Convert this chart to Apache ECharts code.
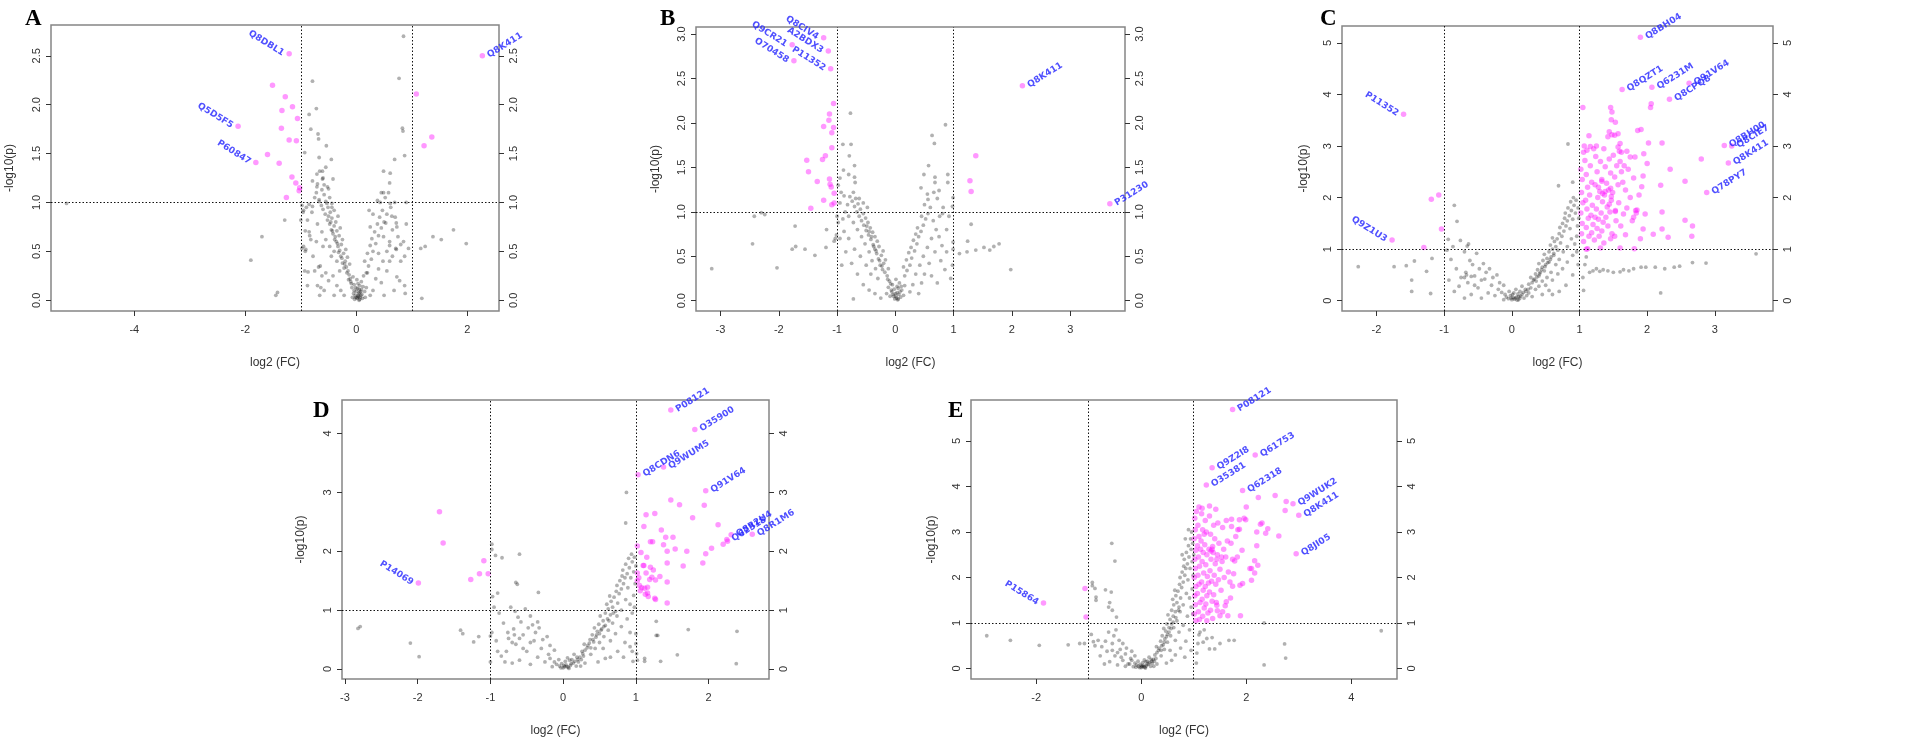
<!DOCTYPE html>
<html><head><meta charset="utf-8">
<script src="https://cdn.jsdelivr.net/npm/echarts@6/dist/echarts.min.js"></script>
<style>html,body{margin:0;padding:0;background:#fff}#c{width:1920px;height:738px}</style>
</head><body><div id="c"></div>
<script>
// ---------------- Panel A ----------------
const xTicksA = [-4, -2, 0, 2];
const yTicksA = [0, 0.5, 1, 1.5, 2, 2.5];
const labelsA = [[-1.21,2.52,'Q8DBL1','L'],[-2.13,1.78,'Q5D5F5','L'],[-1.81,1.41,'P60847','L'],[2.27,2.50,'Q8K411','R']];
const pinkA = [[-1.51,2.20],[-1.28,2.08],[-1.15,1.98],[-1.34,1.94],[-1.06,1.86],[-1.35,1.76],[-1.21,1.64],[-1.08,1.63],[-1.60,1.49],[-1.39,1.40],[-1.16,1.26],[-1.09,1.20],[-1.02,1.15],[-1.03,1.12],[-1.26,1.05],[1.08,2.11],[1.36,1.67],[1.22,1.58]];
const greyA = [[-5.22,0.99],[-1.90,0.41],[-1.70,0.65],[-1.45,0.05],[-1.42,0.08],[-1.29,0.82],[-1.00,0.82],[-0.98,0.53],[-0.93,0.30],
[0.85,2.70],[0.77,2.27],[0.83,1.76],[0.84,1.73],[0.87,1.48],[0.69,1.44],[0.61,1.30],[0.49,1.32],[0.43,1.00],
[1.75,0.72],[1.98,0.58],[1.53,0.62],[1.38,0.65],[1.24,0.55],[1.16,0.53],[1.18,0.02],[0.87,0.15],[0.88,0.07],[0.94,0.53],[0.90,1.00],[0.90,0.78],[0.72,0.79],[0.73,0.75],[0.64,0.86],
[-0.79,2.24],[-0.72,1.96],[-0.85,1.90],[-0.82,1.75],[-0.69,1.70],[-0.68,1.65],[-0.93,1.51],[-0.54,1.58],[-0.67,1.46],[-0.45,1.44],[-0.71,1.29],[-0.61,1.32],
[0.23,0.92],[0.49,1.10],[0.61,0.99],[0.69,1.00],[0.53,0.79],[0.49,0.65],[0.60,0.56],[0.71,0.53],[0.80,0.57],[0.87,0.45],[0.60,0.40],[0.40,0.48],[0.73,0.24],[0.20,0.28],
[-0.98,0.97],[-0.79,0.96],[-0.67,1.01],[-0.53,0.99],[-0.44,0.95],[-0.50,1.14],[-0.58,1.18],[-0.71,1.16],[-0.61,1.24],[-0.42,1.24],[-0.96,0.90],[-0.92,0.71],[-0.84,0.66],[-0.91,0.52],[-0.87,0.29],[-0.68,0.34],[-0.64,0.13],[-0.66,0.05],
[0.01,0.02],[0.04,0.04],[-0.02,0.05],[0.07,0.03],[0.00,0.09],[0.05,0.11],[-0.05,0.07],[0.10,0.06],[0.06,0.01],[-0.03,0.01],[0.12,0.14],[-0.08,0.13],[0.03,0.17],[0.15,0.09],[-0.10,0.19],[0.01,0.21],[0.09,0.19],[-0.06,0.24],[0.18,0.13],[-0.13,0.26],[0.13,0.25],[0.02,0.03],[0.08,0.09],[-0.01,0.13],[0.04,0.07],[0.11,0.02],[-0.04,0.16],[0.06,0.15],[0.16,0.03],[-0.07,0.03],
[0.03,0.05],[0.06,0.08],[-0.01,0.03],[0.09,0.11],[0.02,0.12],[-0.04,0.10],[0.05,0.00],[0.08,0.05],[-0.09,0.17],[-0.11,0.22],[-0.14,0.21],[-0.17,0.28],
[-0.15,0.30],[-0.18,0.34],[-0.12,0.37],[-0.22,0.33],[-0.20,0.40],[-0.25,0.38],[-0.16,0.44],[-0.28,0.45],[-0.23,0.48],[-0.30,0.51],[-0.19,0.52],[-0.33,0.55],[-0.27,0.57],[-0.36,0.60],[-0.25,0.62],[-0.38,0.65],[-0.31,0.66],[-0.42,0.68],[-0.35,0.71],[-0.45,0.72],[-0.29,0.74],[-0.40,0.76],[-0.48,0.78],[-0.37,0.80],[-0.52,0.82],[-0.44,0.84],[-0.33,0.86],[-0.56,0.88],[-0.47,0.90],[-0.40,0.92],[-0.60,0.93],[-0.51,0.95],[-0.63,0.97],[-0.44,0.99],[-0.55,1.01],[-0.67,1.03],[-0.48,1.05],[-0.58,1.08],[-0.72,1.10],[-0.62,1.13],[-0.52,1.16],[-0.70,1.19],[-0.79,1.22],[-0.60,1.25],[-0.66,1.32],[-0.55,1.36],[-0.75,1.05],[-0.85,0.98],[-0.90,0.95],[-0.80,0.90],[-0.95,0.92],[-0.88,0.82],[-0.70,0.78],[-0.62,0.70],[-0.55,0.62],[-0.48,0.55],[-0.40,0.50],[-0.35,0.40],[-0.30,0.30],[-0.45,0.45],[-0.60,0.55],[-0.72,0.60],[-0.85,0.70],[-0.92,0.50],[-0.78,0.45],[-0.65,0.35],[-0.55,0.28],[-0.42,0.25],[-0.50,0.20],[-0.62,0.25],[-0.75,0.30],[-0.88,0.15],[-0.95,0.55],[-0.82,0.62],[-0.70,0.15],[-0.58,0.10],[-0.35,0.15],[-0.28,0.10],[-0.22,0.05],[-0.40,0.05],
[-0.21,0.37],[-0.26,0.43],[-0.32,0.49],[-0.34,0.58],[-0.39,0.62],[-0.43,0.71],[-0.46,0.80],[-0.50,0.86],
[0.18,0.28],[0.22,0.35],[0.15,0.40],[0.27,0.42],[0.20,0.48],[0.30,0.50],[0.25,0.56],[0.35,0.58],[0.28,0.63],[0.40,0.66],[0.33,0.70],[0.45,0.74],[0.38,0.78],[0.50,0.80],[0.42,0.85],[0.55,0.88],[0.47,0.92],[0.52,1.05],[0.58,1.10],[0.62,0.95],[0.70,0.85],[0.65,0.72],[0.75,0.65],[0.60,0.60],[0.55,0.50],[0.48,0.40],[0.40,0.32],[0.35,0.22],[0.45,0.18],[0.55,0.30],[0.65,0.45],[0.72,0.52],[0.80,0.40],[0.85,0.60],[0.78,0.20],[0.68,0.10],[0.30,0.10],[0.25,0.05],[0.50,0.05],[0.38,1.02],[0.45,1.10],[0.30,0.88],[0.25,0.75],[0.60,1.20]];

// ---------------- Panel B ----------------
const xTicksB = [-3, -2, -1, 0, 1, 2, 3];
const yTicksB = [0, 0.5, 1, 1.5, 2, 2.5, 3];
const labelsB = [[-1.23,2.96,'Q8CIV4','L'],[-1.77,2.88,'Q9CR21','L'],[-1.15,2.81,'A2BDX3','L'],[-1.74,2.70,'O70458','L'],[-1.11,2.61,'P11352','L'],[2.18,2.42,'Q8K411','R'],[3.68,1.09,'P31230','R']];
const pinkB = [[-1.06,2.22],[-1.13,2.10],[-1.14,2.03],[-1.23,1.96],[-1.06,1.95],[-1.09,1.89],[-1.09,1.72],[-1.20,1.63],[-1.25,1.59],[-1.52,1.58],[-1.49,1.45],[-1.34,1.34],[-1.13,1.37],[-1.12,1.31],[-1.10,1.28],[-1.05,1.21],[-1.23,1.13],[-1.09,1.08],[-1.05,1.10],[-1.45,1.04],[1.38,1.63],[1.28,1.35],[1.30,1.23]];
const greyB = [[-0.77,2.11],[-0.90,1.76],[-0.76,1.76],[-0.79,1.63],[-0.70,1.52],[-0.89,1.47],[-0.80,1.42],[-0.70,1.39],[-0.69,1.33],[-0.95,1.38],[-0.98,1.30],[-0.93,1.22],
[0.86,1.98],[0.63,1.86],[0.67,1.77],[0.57,1.52],[0.49,1.42],[0.68,1.39],[0.68,1.33],[0.90,1.42],[0.90,1.33],[0.99,1.16],[0.98,1.06],[0.56,1.14],[0.75,1.24],[0.44,1.27],
[0.99,0.66],[0.99,0.58],[0.98,0.40],[1.10,0.53],[1.23,0.55],[1.24,0.67],[1.30,0.86],[1.38,0.57],[1.52,0.60],[1.62,0.57],[1.69,0.61],[1.78,0.64],[1.98,0.35],[0.81,0.98],
[-3.15,0.36],[-2.45,0.64],[-2.42,0.95],[-2.30,0.99],[-2.24,0.97],[-2.03,0.37],[-1.77,0.58],[-1.72,0.84],[-1.71,0.61],[-1.55,0.58],[-1.38,0.51],[-1.19,0.60],[-1.18,0.80],[-1.03,0.70],[-1.01,0.74],[-1.05,0.67],[-0.72,0.02],[-1.00,0.95],[-0.98,0.88],
[0.02,0.03],[-0.03,0.05],[0.05,0.02],[0.00,0.08],[-0.06,0.10],[0.06,0.07],[-0.02,0.13],[0.09,0.04],[-0.09,0.05],[0.03,0.16],[-0.05,0.18],[0.11,0.12],[-0.12,0.15],[0.07,0.20],[0.14,0.06],[-0.10,0.22],[0.01,0.24],[0.16,0.17],[-0.15,0.08],[0.04,0.01],
[0.01,0.05],[-0.01,0.02],[0.03,0.09],[-0.04,0.07],[0.08,0.10],[-0.07,0.12],[0.05,0.14],[-0.08,0.19],[-0.13,0.24],[0.10,0.16],
[-0.14,0.28],[-0.18,0.32],[-0.12,0.36],[-0.22,0.35],[-0.20,0.42],[-0.26,0.40],[-0.17,0.46],[-0.29,0.47],[-0.24,0.51],[-0.32,0.53],[-0.21,0.56],[-0.35,0.58],[-0.28,0.61],[-0.38,0.63],[-0.31,0.67],[-0.42,0.69],[-0.35,0.72],[-0.46,0.74],[-0.39,0.77],[-0.50,0.79],[-0.43,0.82],[-0.54,0.85],[-0.47,0.88],[-0.58,0.90],[-0.51,0.93],[-0.62,0.95],[-0.55,0.98],[-0.66,1.00],[-0.60,1.03],[-0.70,1.06],[-0.64,1.09],[-0.74,1.12],[-0.68,1.15],[-0.78,1.17],[-0.82,1.08],[-0.86,1.00],[-0.90,0.92],[-0.80,0.95],[-0.72,0.88],[-0.65,0.80],[-0.58,0.72],[-0.52,0.64],[-0.45,0.55],[-0.40,0.45],[-0.34,0.36],[-0.30,0.25],[-0.42,0.30],[-0.50,0.40],[-0.60,0.50],[-0.70,0.58],[-0.80,0.70],[-0.88,0.78],[-0.95,0.70],[-0.85,0.55],[-0.75,0.42],[-0.65,0.30],[-0.55,0.18],[-0.45,0.12],[-0.35,0.08],[-0.25,0.03],[-0.92,0.40],[-0.62,1.15],[-0.55,1.10],[-0.48,1.05],[-0.72,1.22],[-0.88,1.18],[-0.95,1.10],
[-0.23,0.39],[-0.27,0.45],[-0.33,0.56],[-0.37,0.61],[-0.41,0.72],[-0.45,0.78],[-0.49,0.84],
[0.16,0.28],[0.20,0.34],[0.14,0.38],[0.25,0.40],[0.19,0.46],[0.28,0.48],[0.23,0.54],[0.33,0.56],[0.27,0.60],[0.37,0.64],[0.31,0.68],[0.40,0.72],[0.35,0.75],[0.44,0.78],[0.38,0.82],[0.48,0.85],[0.52,0.92],[0.45,0.95],[0.56,0.98],[0.60,1.05],[0.50,1.08],[0.65,0.90],[0.70,0.80],[0.62,0.70],[0.75,0.72],[0.55,0.60],[0.68,0.55],[0.48,0.50],[0.80,0.62],[0.42,0.40],[0.58,0.42],[0.35,0.30],[0.50,0.30],[0.30,0.18],[0.45,0.20],[0.62,0.28],[0.78,0.45],[0.85,0.35],[0.72,0.20],[0.25,0.10],[0.40,0.08],[0.88,0.80],[0.92,0.95],[0.82,1.05],[0.72,1.15],[0.66,1.22],[0.55,1.20],[0.76,0.95],[0.88,0.55],[0.95,0.25]];

// ---------------- Panel C ----------------
const xTicksC = [-2, -1, 0, 1, 2, 3];
const yTicksC = [0, 1, 2, 3, 4, 5];
const labelsC = [[1.90,5.11,'Q8BH04','R'],[1.63,4.10,'Q8QZT1','R'],[2.07,4.14,'Q6231M','R'],[2.33,3.91,'Q8CPQ8','R'],[2.62,4.22,'Q91V64','R'],[-1.60,3.62,'P11352','L'],[-1.77,1.18,'Q9Z1U3','L'],[3.14,3.01,'Q8BH00','R'],[3.25,3.00,'Q8CIE7','R'],[3.20,2.67,'Q8K411','R'],[2.88,2.10,'Q78PY7','R']];
const pinkC = [[-1.19,1.97],[-1.08,2.05],[-1.04,1.39],[-1.30,1.03],
[1.05,3.75],[1.46,3.75],[1.48,3.66],[1.47,3.51],[1.53,3.46],[2.06,3.82],[2.05,3.75],[1.86,3.30],[1.91,3.32],[1.42,3.18],[1.44,3.28],[1.48,3.22],[1.57,3.24],[1.52,3.21],[1.14,3.20],[1.25,3.00],[1.16,2.99],[1.06,2.88],[2.02,3.06],[2.22,3.06],[2.80,2.75],[2.34,2.55],[2.56,2.32],[2.20,2.24],[1.92,2.21],[1.94,2.42],[2.00,2.66],[1.95,2.85],[1.82,2.79],[1.75,2.79],[1.62,2.88],[1.59,2.90],[2.22,1.72],[2.56,1.56],[2.67,1.45],[2.66,1.25],[2.22,1.39],[2.09,1.29],[2.31,1.23],[1.97,1.68],[1.94,1.39],[1.80,1.62],[1.85,1.76],[1.83,1.75],[1.81,1.01],[1.60,1.02],[1.46,1.20],[1.31,1.02],[1.10,1.00],[1.12,1.01],
[1.02,2.55],[1.04,2.35],[1.03,2.10],[1.05,1.90],[1.02,1.70],[1.04,1.50],[1.03,1.30],[1.06,1.15],[1.08,2.72],[1.10,2.45],[1.12,2.20],[1.09,1.95],[1.11,1.78],[1.13,1.60],[1.10,1.42],[1.14,1.25],[1.16,2.62],[1.18,2.30],[1.15,2.05],[1.19,1.85],[1.17,1.66],[1.20,1.48],[1.18,1.32],[1.22,1.18],[1.24,2.80],[1.26,2.50],[1.23,2.25],[1.27,2.00],[1.25,1.78],[1.28,1.58],[1.26,1.40],[1.29,1.25],[1.31,2.70],[1.33,2.35],[1.30,2.12],[1.34,1.92],[1.32,1.70],[1.35,1.52],[1.33,1.35],[1.36,2.95],[1.38,2.60],[1.40,2.28],[1.37,2.05],[1.41,1.82],[1.39,1.62],[1.42,1.45],[1.44,2.75],[1.46,2.48],[1.43,2.15],[1.47,1.95],[1.45,1.72],[1.48,1.30],[1.50,2.82],[1.52,2.40],[1.49,2.10],[1.53,1.75],[1.55,2.62],[1.57,2.25],[1.54,1.55],[1.58,1.90],[1.60,2.70],[1.62,2.50],[1.64,2.30],[1.61,1.45],[1.66,2.62],[1.68,2.15],[1.70,1.80],[1.72,2.55],[1.65,1.68],[1.75,2.00],[1.78,1.55],[1.80,2.38],[1.84,1.70],[1.88,2.05],[1.90,1.20],[1.36,1.12],[1.52,1.25],[1.68,1.28],[1.23,1.62],[1.28,2.20],[1.21,2.95],[1.11,2.92],[1.07,3.00],[1.60,3.05],[1.70,2.90],[1.57,2.98],[1.34,2.08],[1.38,2.12],[1.33,2.32],[1.47,2.02],[1.44,1.87],[1.53,1.73],[1.46,2.18]];
const greyC = [[-2.27,0.66],[-1.74,0.66],[-1.56,0.68],[-1.44,0.77],[-1.48,0.40],[-1.48,0.18],[-1.20,0.14],[-1.26,0.57],[-1.18,0.82],[-0.85,1.85],[-0.81,1.54],[-0.94,1.19],[-0.87,1.05],[-0.76,1.17],[-0.64,1.10],
[0.83,3.04],[0.69,2.23],[0.90,2.30],[2.20,0.15],[3.61,0.91],[2.87,0.73],[2.67,0.74],
[1.20,0.58],[1.42,0.58],[1.60,0.56],[1.73,0.58],[1.80,0.62],[1.91,0.65],[1.98,0.65],[2.12,0.65],[2.26,0.62],[2.40,0.65],[2.48,0.67],[1.30,0.57],[1.35,0.60],[1.08,0.70],[1.05,0.45],[1.06,0.20],[1.10,0.85],[1.15,0.55],[1.25,0.62],[1.50,0.55],[1.65,0.60],
[0.00,0.02],[0.05,0.05],[-0.05,0.04],[0.10,0.08],[-0.02,0.10],[0.08,0.01],[0.15,0.12],[-0.08,0.07],[0.03,0.15],[0.18,0.05],[0.12,0.18],[-0.10,0.12],[0.22,0.10],[0.06,0.22],[0.20,0.22],[-0.04,0.18],[0.25,0.15],[0.15,0.28],[0.28,0.25],[0.02,0.06],[0.10,0.02],[-0.12,0.02],[0.30,0.08],[-0.15,0.16],
[0.04,0.03],[0.07,0.07],[-0.01,0.05],[0.12,0.05],[0.09,0.13],[0.17,0.16],[0.21,0.18],[0.24,0.22],[0.13,0.09],[0.01,0.12],
[0.30,0.35],[0.25,0.32],[0.33,0.42],[0.28,0.45],[0.36,0.38],[0.35,0.52],[0.40,0.48],[0.38,0.60],[0.42,0.55],[0.45,0.65],[0.40,0.72],[0.48,0.58],[0.46,0.78],[0.50,0.70],[0.52,0.82],[0.48,0.90],[0.55,0.75],[0.55,0.95],[0.58,0.85],[0.60,1.00],[0.57,1.08],[0.62,0.92],[0.63,1.15],[0.65,1.05],[0.60,1.22],[0.67,1.20],[0.68,0.98],[0.70,1.30],[0.72,1.12],[0.71,1.42],[0.74,1.25],[0.75,1.50],[0.77,1.35],[0.78,1.60],[0.80,1.45],[0.79,1.70],[0.82,1.55],[0.83,1.80],[0.85,1.65],[0.86,1.40],[0.88,1.75],[0.87,1.92],[0.90,1.58],[0.92,1.85],[0.91,2.00],[0.94,1.70],[0.95,1.95],[0.97,1.45],[0.98,1.80],[0.96,1.25],[0.99,1.60],[0.93,1.10],[0.88,1.20],[0.82,1.05],[0.76,0.95],[0.70,0.80],[0.65,0.70],[0.58,0.55],[0.52,0.45],[0.45,0.38],[0.40,0.28],[0.35,0.22],[0.50,0.30],[0.60,0.40],[0.68,0.52],[0.75,0.62],[0.82,0.75],[0.90,0.88],[0.96,0.95],[0.80,0.30],[0.70,0.18],[0.60,0.12],[0.90,0.50],[0.98,0.70],[0.55,0.20],[0.45,0.12],
[0.32,0.40],[0.37,0.46],[0.41,0.52],[0.44,0.60],[0.49,0.66],[0.53,0.74],[0.57,0.80],[0.62,0.88],
[-0.20,0.22],[-0.25,0.10],[-0.30,0.30],[-0.35,0.15],[-0.40,0.42],[-0.45,0.05],[-0.50,0.25],[-0.55,0.48],[-0.60,0.12],[-0.65,0.35],[-0.68,0.55],[-0.70,0.05],[-0.75,0.45],[-0.78,0.28],[-0.82,0.62],[-0.85,0.18],[-0.90,0.80],[-0.93,0.40],[-0.96,0.98],[-0.62,0.78],[-0.58,0.70],[-0.48,0.62],[-0.38,0.55],[-0.28,0.45],[-0.18,0.35],[-0.52,0.92],[-0.70,0.95],[-0.66,1.06],[-0.42,0.72],[-0.33,0.62],[-0.22,0.50],[-0.12,0.30],[-0.70,0.45],[-0.67,0.50],[-0.60,0.47],[-0.55,0.30],[-0.45,0.40]];

// ---------------- Panel D ----------------
const xTicksD = [-3, -2, -1, 0, 1, 2];
const yTicksD = [0, 1, 2, 3, 4];
const labelsD = [[1.48,4.40,'P08121','R'],[1.81,4.07,'O35900','R'],[1.03,3.30,'Q8CDN6','R'],[1.38,3.43,'Q9WUM5','R'],[1.96,3.03,'Q91V64','R'],[2.31,2.28,'Q8R2U4','R'],[2.25,2.20,'Q62318','R'],[2.60,2.29,'Q8R1M6','R'],[-1.99,1.46,'P14069','L']];
const pinkD = [[-1.70,2.67],[-1.65,2.14],[-1.09,1.84],[-1.15,1.62],[-1.03,1.62],[-1.27,1.52],
[1.48,2.87],[1.60,2.79],[1.94,2.78],[1.78,2.57],[2.13,2.45],[1.14,2.62],[1.26,2.64],[1.11,2.42],[1.35,2.36],[1.41,2.24],[1.51,2.24],[1.20,2.16],[1.23,2.16],[1.38,2.11],[1.54,2.04],[1.43,2.00],[1.70,2.00],[2.04,2.05],[1.96,1.96],[1.92,1.80],[1.65,1.75],[1.43,1.80],[1.02,2.09],[1.07,1.98],[1.15,1.90],[1.10,1.76],[1.11,1.76],[1.20,1.73],[1.14,1.63],[1.24,1.68],[1.22,1.56],[1.19,1.52],[1.27,1.51],[1.33,1.57],[1.02,1.63],[1.04,1.55],[1.02,1.50],[1.43,1.48],[1.08,1.38],[1.12,1.37],[1.16,1.39],[1.13,1.27],[1.17,1.23],[1.16,1.29],[1.26,1.20],[1.27,1.18],[1.43,1.12],[1.05,1.42],[1.06,1.33],[2.20,2.12],[2.26,2.17]];
const greyD = [[0.87,3.00],[0.86,2.48],[-0.98,2.12],[-0.98,2.03],[-0.93,1.93],[-0.84,1.89],[-0.60,1.95],[-0.63,1.44],[-0.65,1.47],[-0.34,1.30],[-0.90,1.29],[-0.97,1.23],[-2.82,0.69],[-2.79,0.72],[-2.10,0.44],[-1.98,0.21],[-1.41,0.66],[-1.38,0.60],[-1.23,0.46],[-1.16,0.55],[-1.00,0.56],[-1.00,0.12],[1.72,0.67],[2.39,0.64],[2.38,0.09],[1.57,0.24],[1.34,0.13],[1.12,0.18],[1.12,0.13],[1.28,0.81],[1.28,0.57],[1.30,0.57],[1.00,0.60],[1.00,0.43],[1.01,0.26],[1.02,0.15],[0.92,0.38],[0.96,0.13],
[0.00,0.02],[0.05,0.04],[-0.05,0.05],[0.10,0.06],[-0.02,0.09],[0.08,0.01],[0.14,0.10],[-0.09,0.08],[0.03,0.13],[0.18,0.05],[0.12,0.16],[-0.12,0.12],[0.21,0.12],[0.06,0.19],[0.19,0.20],[-0.06,0.16],[0.25,0.16],[0.15,0.25],[0.28,0.22],[0.02,0.04],[-0.15,0.04],[-0.18,0.18],[0.30,0.10],[0.24,0.05],
[0.04,0.07],[0.07,0.03],[0.11,0.09],[0.16,0.13],[0.20,0.16],[0.23,0.20],[0.01,0.06],[-0.03,0.02],[0.09,0.15],[0.27,0.26],
[0.30,0.32],[0.26,0.30],[0.34,0.40],[0.29,0.42],[0.38,0.36],[0.37,0.50],[0.42,0.46],[0.40,0.58],[0.45,0.54],[0.47,0.64],[0.43,0.70],[0.50,0.60],[0.49,0.76],[0.53,0.68],[0.55,0.82],[0.51,0.90],[0.58,0.74],[0.58,0.95],[0.61,0.85],[0.62,1.02],[0.60,1.10],[0.65,0.92],[0.66,1.15],[0.68,1.05],[0.64,1.24],[0.70,1.22],[0.72,0.98],[0.73,1.32],[0.75,1.12],[0.74,1.42],[0.77,1.28],[0.78,1.50],[0.80,1.36],[0.81,1.58],[0.83,1.45],[0.82,1.68],[0.85,1.55],[0.86,1.78],[0.88,1.62],[0.89,1.38],[0.91,1.72],[0.90,1.88],[0.93,1.55],[0.95,1.82],[0.94,1.95],[0.97,1.65],[0.98,1.90],[0.99,1.45],[1.00,1.75],[0.97,1.25],[0.92,1.10],[0.86,1.18],[0.80,1.00],[0.74,0.90],[0.68,0.78],[0.62,0.66],[0.56,0.55],[0.50,0.45],[0.44,0.35],[0.38,0.25],[0.55,0.35],[0.65,0.48],[0.72,0.60],[0.80,0.72],[0.88,0.85],[0.95,0.95],[0.85,0.45],[0.75,0.30],[0.65,0.20],[0.92,0.62],[0.98,1.05],[0.58,0.18],[0.48,0.12],[0.83,0.20],[0.95,0.30],
[0.33,0.36],[0.36,0.44],[0.41,0.50],[0.46,0.58],[0.52,0.66],[0.56,0.72],[0.63,0.82],[0.69,0.95],
[-0.20,0.25],[-0.25,0.12],[-0.30,0.35],[-0.35,0.20],[-0.40,0.48],[-0.45,0.08],[-0.50,0.30],[-0.55,0.58],[-0.60,0.15],[-0.65,0.42],[-0.68,0.68],[-0.70,0.10],[-0.75,0.52],[-0.78,0.30],[-0.82,0.78],[-0.85,0.22],[-0.88,0.95],[-0.92,0.48],[-0.95,1.05],[-0.62,0.88],[-0.58,0.80],[-0.48,0.70],[-0.38,0.62],[-0.28,0.50],[-0.18,0.40],[-0.52,1.02],[-0.72,1.05],[-0.66,0.98],[-0.45,0.90],[-0.35,0.80],[-0.42,0.75],[-0.33,0.70],[-0.22,0.55],[-0.12,0.32],[-0.70,0.45],[-0.67,0.58],[-0.60,0.52],[-0.55,0.35],[-0.45,0.45],[-0.80,0.12],[-0.90,0.30],[-0.98,0.62],[-0.76,0.62]];

// ---------------- Panel E ----------------
const xTicksE = [-2, 0, 2, 4];
const yTicksE = [0, 1, 2, 3, 4, 5];
const labelsE = [[1.74,5.69,'P08121','R'],[2.17,4.69,'Q61753','R'],[1.35,4.41,'Q9Z2I8','R'],[1.24,4.03,'O35381','R'],[1.93,3.91,'Q62318','R'],[2.89,3.62,'Q9WUK2','R'],[3.00,3.37,'Q8K411','R'],[2.95,2.52,'Q8JI05','R'],[-1.86,1.44,'P15864','L']];
const pinkE = [[-1.07,1.76],[-1.05,1.13],
[2.23,3.76],[2.55,3.80],[2.76,3.67],[2.74,3.47],[2.62,2.91],[2.41,3.07],[2.37,2.97],[2.30,3.20],[2.27,3.17],[2.20,3.00],[2.20,2.70],[2.16,2.37],[2.22,2.27],[2.10,2.20],[2.07,2.20],[2.16,2.10],[2.10,1.94],[1.93,1.87],[2.00,3.55],[1.99,3.27],[1.87,3.27],[1.87,3.06],[1.72,3.28],[1.72,3.12],[1.78,2.36],[1.88,1.83],[1.74,1.81],[1.62,1.47],[1.89,1.16],[1.65,1.16],[1.50,1.16],[1.44,1.39],[1.45,1.27],[1.10,3.55],[1.16,3.52],[1.30,3.57],[1.42,3.50],
[1.02,3.30],[1.03,3.05],[1.01,2.85],[1.04,2.60],[1.02,2.40],[1.03,2.20],[1.01,2.00],[1.04,1.80],[1.02,1.60],[1.03,1.40],[1.01,1.20],[1.04,1.05],[1.08,3.15],[1.10,2.90],[1.07,2.70],[1.09,2.45],[1.11,2.25],[1.08,2.05],[1.10,1.85],[1.07,1.65],[1.12,1.45],[1.09,1.25],[1.11,1.08],[1.15,3.40],[1.17,3.05],[1.14,2.80],[1.18,2.55],[1.16,2.35],[1.19,2.10],[1.15,1.90],[1.18,1.72],[1.16,1.52],[1.20,1.33],[1.17,1.15],[1.22,3.25],[1.24,3.00],[1.21,2.72],[1.25,2.50],[1.23,2.28],[1.26,2.02],[1.22,1.80],[1.25,1.60],[1.23,1.42],[1.27,1.22],[1.30,3.35],[1.32,2.95],[1.29,2.62],[1.33,2.40],[1.31,2.15],[1.34,1.92],[1.30,1.68],[1.35,1.48],[1.32,1.28],[1.38,3.15],[1.40,2.85],[1.37,2.55],[1.41,2.30],[1.39,2.05],[1.42,1.85],[1.38,1.62],[1.43,1.45],[1.46,3.20],[1.48,2.75],[1.45,2.50],[1.50,2.18],[1.47,1.95],[1.52,1.72],[1.55,3.10],[1.57,2.62],[1.54,2.35],[1.58,2.00],[1.62,3.25],[1.64,2.80],[1.61,2.45],[1.66,2.12],[1.69,1.90],[1.71,2.75],[1.74,2.40],[1.76,2.08],[1.80,2.90],[1.83,2.45],[1.84,3.05],[1.92,2.60],[1.96,3.30],[1.60,1.38],[1.70,1.55],[1.55,1.25],[1.36,1.10],[1.25,1.05],[1.05,3.45],[1.13,2.62],[1.20,2.95],[1.28,1.88],[1.36,2.68],[1.44,2.40],[1.33,2.58],[1.35,2.62],[1.53,2.45]];
const greyE = [[-0.56,2.75],[-0.50,2.36],[-0.93,1.89],[-0.93,1.82],[-0.88,1.76],[-0.68,1.73],[-0.57,1.68],[-0.86,1.57],[-0.86,1.50],[-0.60,1.45],[-0.62,1.35],[-0.55,1.28],[-0.47,1.13],[-2.94,0.72],[-2.49,0.62],[-1.94,0.51],[-1.39,0.52],[-1.17,0.55],[-1.08,0.55],[-0.91,0.59],[4.57,0.83],[2.73,0.54],[2.75,0.23],[2.34,0.08],[2.34,1.00],[1.67,0.62],[1.77,0.62],[1.50,0.55],[1.40,0.43],[1.30,0.43],[1.35,0.68],[1.25,0.66],[1.18,0.58],[1.10,0.74],[1.08,0.55],[1.06,0.34],[1.05,0.12],[1.12,0.80],[1.20,0.85],
[0.00,0.02],[0.05,0.04],[-0.05,0.05],[0.10,0.06],[-0.02,0.09],[0.08,0.01],[0.14,0.10],[-0.09,0.08],[0.03,0.13],[0.18,0.05],[0.12,0.16],[-0.12,0.12],[0.21,0.12],[0.06,0.19],[0.19,0.20],[-0.06,0.16],[0.25,0.16],[0.15,0.25],[0.28,0.22],[0.02,0.04],[-0.15,0.04],[-0.18,0.18],[0.30,0.10],[0.24,0.05],
[0.04,0.07],[0.07,0.03],[0.11,0.09],[0.16,0.13],[0.20,0.16],[0.23,0.20],[0.01,0.06],[-0.03,0.02],[0.09,0.15],[-0.10,0.03],
[0.30,0.35],[0.26,0.30],[0.34,0.45],[0.29,0.48],[0.38,0.40],[0.37,0.60],[0.42,0.52],[0.40,0.72],[0.45,0.65],[0.47,0.82],[0.43,0.88],[0.50,0.75],[0.49,0.98],[0.53,0.90],[0.55,1.08],[0.51,1.18],[0.58,0.98],[0.58,1.28],[0.61,1.15],[0.62,1.40],[0.60,1.52],[0.65,1.25],[0.66,1.60],[0.68,1.45],[0.64,1.72],[0.70,1.70],[0.72,1.35],[0.73,1.85],[0.75,1.55],[0.74,2.00],[0.77,1.78],[0.78,2.12],[0.80,1.90],[0.81,2.25],[0.83,2.05],[0.82,2.40],[0.85,2.20],[0.86,2.55],[0.88,2.30],[0.89,1.95],[0.91,2.45],[0.90,2.70],[0.93,2.20],[0.95,2.62],[0.94,2.85],[0.97,2.35],[0.98,2.75],[0.99,2.05],[1.00,2.50],[0.97,1.75],[0.92,1.55],[0.86,1.65],[0.80,1.40],[0.74,1.25],[0.68,1.05],[0.62,0.90],[0.56,0.72],[0.50,0.58],[0.44,0.42],[0.38,0.28],[0.55,0.40],[0.65,0.62],[0.72,0.80],[0.80,0.95],[0.88,1.15],[0.95,1.35],[0.85,0.60],[0.75,0.45],[0.65,0.30],[0.92,0.85],[0.98,1.20],[0.58,0.18],[0.48,0.12],[0.83,0.25],[0.95,0.40],[0.84,2.85],[0.90,3.05],[0.96,3.00],[0.78,2.50],
[0.33,0.40],[0.39,0.50],[0.44,0.58],[0.48,0.70],[0.53,0.80],[0.57,0.88],[0.61,1.02],[0.66,1.12],[0.71,1.28],
[-0.20,0.22],[-0.25,0.10],[-0.30,0.32],[-0.35,0.18],[-0.40,0.42],[-0.45,0.08],[-0.50,0.28],[-0.55,0.55],[-0.60,0.15],[-0.65,0.38],[-0.68,0.60],[-0.70,0.10],[-0.75,0.48],[-0.78,0.28],[-0.82,0.62],[-0.88,0.50],[-0.95,0.75],[-0.42,0.62],[-0.35,0.55],[-0.28,0.45],[-0.18,0.38],[-0.12,0.28],[-0.52,0.72],[-0.62,0.80],[-0.48,0.85],[-0.38,0.25],[-0.30,0.05],[-0.55,0.40],[-0.45,0.35],[-0.22,0.10]];

// ---------------- layout ----------------
const panels = [
  {letter:'A', grey:greyA, pink:pinkA, lab:labelsA, xt:xTicksA, yt:yTicksA, dec:1, box:{left:51,top:25,width:448,height:286}, xr:[-5.5,2.57], yr:[-0.11,2.815], lp:[20,3], yng:35},
  {letter:'B', grey:greyB, pink:pinkB, lab:labelsB, xt:xTicksB, yt:yTicksB, dec:1, box:{left:696,top:27,width:429,height:284}, xr:[-3.42,3.94], yr:[-0.116,3.08], lp:[655,3], yng:34},
  {letter:'C', grey:greyC, pink:pinkC, lab:labelsC, xt:xTicksC, yt:yTicksC, dec:0, box:{left:1342,top:26,width:431,height:285}, xr:[-2.51,3.86], yr:[-0.2,5.33], lp:[1315,3], yng:32},
  {letter:'D', grey:greyD, pink:pinkD, lab:labelsD, xt:xTicksD, yt:yTicksD, dec:0, box:{left:342,top:400,width:427,height:280}, xr:[-3.04,2.83], yr:[-0.17,4.57], lp:[308,395], yng:35},
  {letter:'E', grey:greyE, pink:pinkE, lab:labelsE, xt:xTicksE, yt:yTicksE, dec:0, box:{left:971,top:400,width:426,height:280}, xr:[-3.24,4.87], yr:[-0.23,5.9], lp:[943,395], yng:33}
];

const grid = [], xAxis = [], yAxis = [], series = [], title = [];
const tickFont = {fontSize:11, color:'#333', fontFamily:'Liberation Sans'};
const labFont = {fontSize:9, color:'#2323ff', fontFamily:'DejaVu Sans', fontWeight:'bold'};
panels.forEach((p, i) => {
  grid.push(Object.assign({show:true, borderColor:'#858585', borderWidth:1.5, backgroundColor:'transparent'}, p.box));
  const fmtY = v => Number(v).toFixed(p.dec);
  xAxis.push({type:'value', gridIndex:i, min:p.xr[0], max:p.xr[1], position:'bottom',
    axisLine:{show:false, onZero:false}, splitLine:{show:false},
    axisTick:{show:true, customValues:p.xt, length:5, lineStyle:{color:'#333'}},
    axisLabel:Object.assign({customValues:p.xt, margin:13, formatter:v=>String(v)}, tickFont),
    name:'log2 (FC)', nameLocation:'middle', nameGap:46, nameTextStyle:{fontSize:12, color:'#333', fontFamily:'Liberation Sans'}});
  yAxis.push({type:'value', gridIndex:i, position:'left', min:p.yr[0], max:p.yr[1],
    axisLine:{show:false, onZero:false}, splitLine:{show:false},
    axisTick:{show:true, customValues:p.yt, length:5, lineStyle:{color:'#333'}},
    axisLabel:Object.assign({customValues:p.yt, rotate:90, margin:9, formatter:fmtY}, tickFont),
    name:'-log10(p)', nameLocation:'middle', nameGap:p.yng, nameRotate:90, nameTextStyle:{fontSize:12, color:'#333', fontFamily:'Liberation Sans'}});
  yAxis.push({type:'value', gridIndex:i, position:'right', min:p.yr[0], max:p.yr[1],
    axisLine:{show:false, onZero:false}, splitLine:{show:false},
    axisTick:{show:true, customValues:p.yt, length:5, lineStyle:{color:'#333'}},
    axisLabel:Object.assign({customValues:p.yt, rotate:90, margin:9, formatter:fmtY}, tickFont)});
  series.push({type:'scatter', xAxisIndex:i, yAxisIndex:2*i, data:p.grey, symbolSize:3.8,
    itemStyle:{color:'rgba(0,0,0,0.38)'}, silent:true, z:2,
    markLine:{silent:true, symbol:['none','none'], label:{show:false}, animation:false,
      lineStyle:{type:[1.5,2], color:'#111', width:1},
      data:[{xAxis:-1},{xAxis:1},{yAxis:1}]}});
  series.push({type:'scatter', xAxisIndex:i, yAxisIndex:2*i, data:p.pink, symbolSize:5.5,
    itemStyle:{color:'rgba(255,20,255,0.55)'}, silent:true, z:3});
  const mk = side => p.lab.filter(d => d[3] === side).map(d => ({value:[d[0], d[1]], name:d[2]}));
  series.push({type:'scatter', xAxisIndex:i, yAxisIndex:2*i, data:mk('R'), symbolSize:5.5,
    itemStyle:{color:'rgba(255,20,255,0.55)'}, silent:true, z:4,
    label:Object.assign({show:true, formatter:'{b}', position:'right', distance:3, rotate:32}, labFont)});
  series.push({type:'scatter', xAxisIndex:i, yAxisIndex:2*i, data:mk('L'), symbolSize:5.5,
    itemStyle:{color:'rgba(255,20,255,0.55)'}, silent:true, z:4,
    label:Object.assign({show:true, formatter:'{b}', position:'left', distance:3, rotate:-32}, labFont)});
  title.push({text:p.letter, left:p.lp[0], top:p.lp[1], textStyle:{fontFamily:'Liberation Serif', fontWeight:'bold', fontSize:23, color:'#000'}});
});

const chart = echarts.init(document.getElementById('c'));
chart.setOption({animation:false, backgroundColor:'#fff', title, grid, xAxis, yAxis, series});
</script>
</body></html>
